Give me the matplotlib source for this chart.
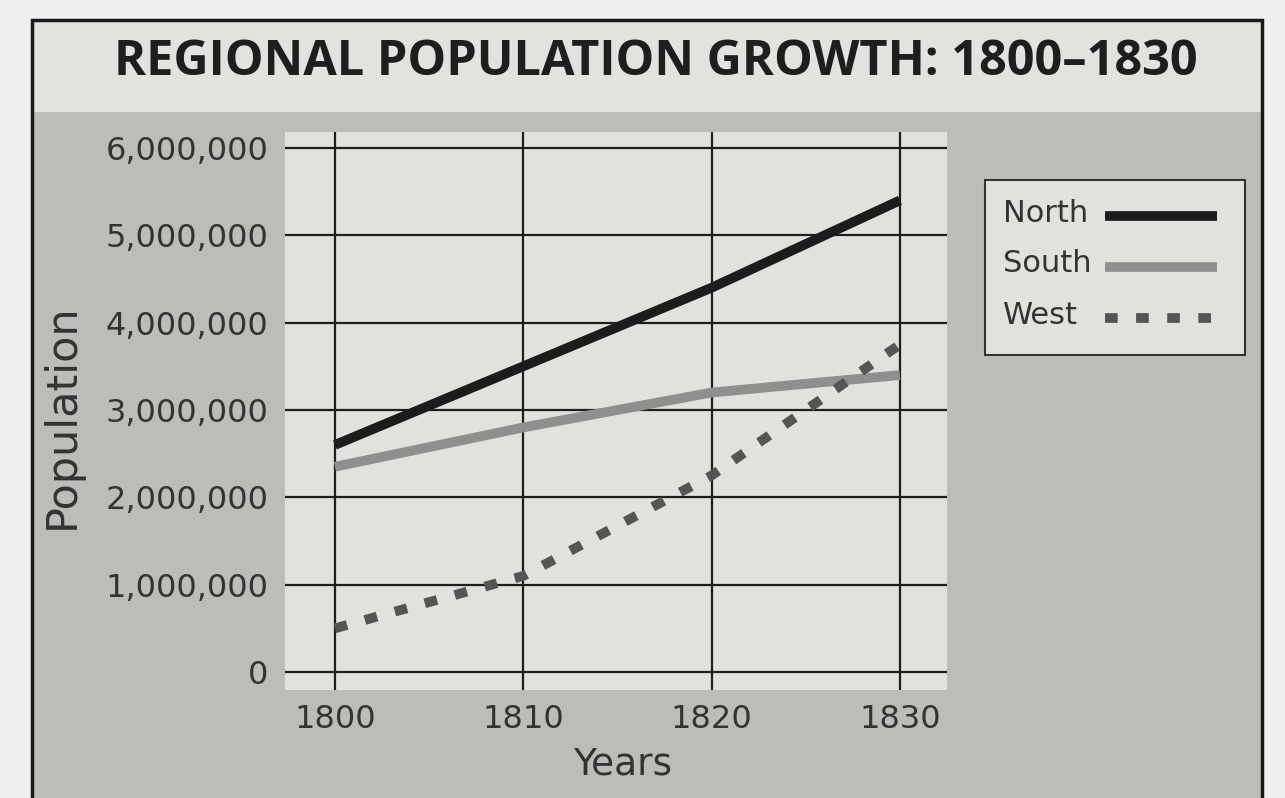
import numpy as np
import matplotlib.pyplot as plt
from matplotlib.patches import Rectangle
from matplotlib.lines import Line2D
from matplotlib.ticker import FuncFormatter

# Datos
years = [1800, 1810, 1820, 1830]
north = [2600000, 3500000, 4400000, 5400000]
south = [2350000, 2800000, 3200000, 3400000]
west = [500000, 1100000, 2250000, 3750000]

W, H = 1285, 798
fig = plt.figure(figsize=(W / 100, H / 100), dpi=100)
fig.patch.set_facecolor('#f0efed')

def fx(px):
    return px / W

def fy(py):
    return 1 - py / H

# fondo gris del recuadro y franja clara del titulo
fig.patches.append(Rectangle((0.025, -0.01), 0.957, 0.87, transform=fig.transFigure,
                             facecolor='#bebcb9', edgecolor='none', zorder=-5))
fig.patches.append(Rectangle((0.025, 0.86), 0.957, 0.115, transform=fig.transFigure,
                             facecolor='#e4e2de', edgecolor='none', zorder=-5))
fig.patches.append(Rectangle((0.025, -0.01), 0.957, 0.985, transform=fig.transFigure,
                             facecolor='none', edgecolor='#1a1a1a', lw=2.5, zorder=-4))

fig.text(0.51, 0.922, 'REGIONAL POPULATION GROWTH: 1800\u20131830', ha='center', va='center',
         fontsize=35, fontweight='bold', family='Open Sans', color='#1e1e1e')

ax = fig.add_axes([fx(285), fy(690), fx(947) - fx(285), fy(132) - fy(690)])
ax.set_facecolor('#e3e1dd')

styles = {
    'North': dict(color='#1c1c1c', lw=7, solid_capstyle='butt', zorder=4),
    'South': dict(color='#8f8f8f', lw=7, solid_capstyle='butt', zorder=3),
    'West': dict(color='#555555', lw=7, dashes=(1.3, 1.9), zorder=3),
}
series = {'North': north, 'South': south, 'West': west}
for name, vals in series.items():
    ax.plot(years, vals, **styles[name])

ax.set_xlim(1797.35, 1832.5)
ax.set_ylim(-206000, 6183000)
ax.set_xticks(years)
ax.set_yticks(np.arange(0, 6000001, 1000000))
ax.yaxis.set_major_formatter(FuncFormatter(lambda v, p: f'{int(v):,}'))
ax.grid(True, color='#1e1e1e', lw=1.6)
ax.set_axisbelow(True)
for s in ax.spines.values():
    s.set_visible(False)
ax.tick_params(length=0, labelsize=23, colors='#333333')
ax.tick_params(axis='y', pad=12)
ax.tick_params(axis='x', pad=10)

ax.set_xlabel('Years', fontsize=27, color='#333333', va='center')
ax.xaxis.set_label_coords(0.51, -0.134)
ax.set_ylabel('Population', fontsize=31, color='#333333', va='center')
ax.yaxis.set_label_coords(-0.337, 0.49)

# leyenda con el texto a la izquierda y la muestra a la derecha
fig.patches.append(Rectangle((fx(985), fy(355)), fx(1245) - fx(985), fy(180) - fy(355),
                             transform=fig.transFigure, facecolor='#e3e1dd',
                             edgecolor='#333333', lw=1.5, zorder=2))
for i, name in enumerate(series):
    yc = 213 + i * 51
    fig.text(fx(1003), fy(yc), name, ha='left', va='center', fontsize=22,
             color='#333333', zorder=3)
    fig.add_artist(Line2D([fx(1105), fx(1217)], [fy(yc + 3), fy(yc + 3)],
                          transform=fig.transFigure, **{**styles[name], 'zorder': 3}))

plt.savefig('out.png', dpi=100, facecolor=fig.get_facecolor())
